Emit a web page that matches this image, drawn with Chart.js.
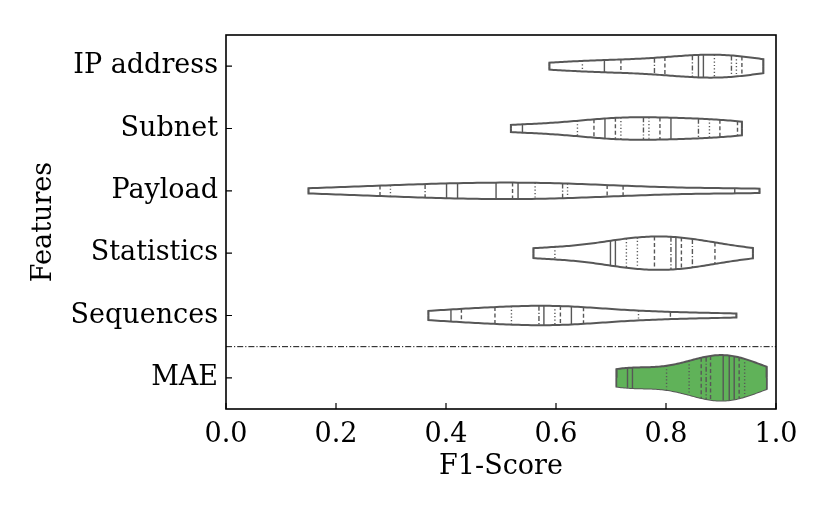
<!DOCTYPE html>
<html>
<head>
<meta charset="utf-8">
<script src="https://cdn.jsdelivr.net/npm/chart.js@4.4.0/dist/chart.umd.min.js"></script>
<style>
  body { margin: 0; background: #fff; }
</style>
</head>
<body>
<canvas id="violin-chart" width="830" height="519"></canvas>
<script>
// categories (top to bottom) and the F1 scores of each run
const features = ['IP address', 'Subnet', 'Payload', 'Statistics', 'Sequences', 'MAE'];

const ipAddress  = [0.588, 0.648, 0.688, 0.718, 0.779, 0.798, 0.848, 0.859, 0.868, 0.888, 0.919, 0.928, 0.938, 0.977];
const subnet     = [0.518, 0.539, 0.639, 0.669, 0.689, 0.708, 0.718, 0.759, 0.769, 0.789, 0.809, 0.859, 0.879, 0.898, 0.930, 0.938];
const payload    = [0.150, 0.280, 0.299, 0.362, 0.401, 0.421, 0.491, 0.521, 0.531, 0.562, 0.612, 0.621, 0.693, 0.722, 0.925, 0.970];
const statistics = [0.559, 0.598, 0.699, 0.708, 0.728, 0.748, 0.779, 0.809, 0.818, 0.828, 0.848, 0.889, 0.958];
const sequences  = [0.368, 0.409, 0.428, 0.489, 0.519, 0.569, 0.578, 0.598, 0.608, 0.628, 0.650, 0.750, 0.808, 0.928];
const mae        = [0.710, 0.730, 0.739, 0.801, 0.842, 0.864, 0.873, 0.881, 0.904, 0.915, 0.924, 0.933, 0.943, 0.983];

// widest point of each violin (in category units)
const peakWidth = [0.184, 0.181, 0.132, 0.268, 0.156, 0.365];

const xTickValues = [0, 0.2, 0.4, 0.6, 0.8, 1.0];
const xTickLabels = ['0.0', '0.2', '0.4', '0.6', '0.8', '1.0'];

const allScores = [ipAddress, subnet, payload, statistics, sequences, mae];

// look of the sticks: s solid, d dashed, o dotted, x dash-dot
const stickKinds = ['sosdxdxssoxods', 'ssodsdoxodsxodds', 'sdoxsssdsoxoddss',
                    'sossoodxsdxds', 'ssddoxsodsdoxs', 'sssoodxdsssdos'];
const dashFor = { s: [], d: [4, 2.5], o: [1.2, 2.2], x: [5, 2, 1.2, 2] };

const GRAY = '#575757';
const FONT = { family: 'DejaVu Serif', size: 27 };
const GRID_SIZE = 100;

// gaussian kde, scott bandwidth (as seaborn/scipy)
function makeKde(values) {
    const n = values.length;
    const mean = values.reduce((a, b) => a + b, 0) / n;
    const sd = Math.sqrt(values.reduce((a, v) => a + (v - mean) ** 2, 0) / (n - 1));
    const bw = sd * Math.pow(n, -0.2);
    return function(x) {
        let s = 0;
        values.forEach(v => { s += Math.exp(-0.5 * ((x - v) / bw) ** 2); });
        return s / (n * bw * Math.sqrt(2 * Math.PI));
    };
}

const kdes = allScores.map(makeKde);
const grids = allScores.map((vals, i) => {
    const lo = Math.min(...vals), hi = Math.max(...vals);
    const pts = [];
    for (let k = 0; k < GRID_SIZE; k++) {
        const x = lo + (hi - lo) * k / (GRID_SIZE - 1);
        pts.push({ x: x, d: kdes[i](x) });
    }
    return pts;
});
const ownMax = grids.map(g => Math.max(...g.map(p => p.d)));
const half = (i, d) => d / ownMax[i] * peakWidth[i];

const datasets = [];

// sticks
allScores.forEach((vals, i) => {
    vals.forEach((v, j) => {
        const h = half(i, kdes[i](v));
        datasets.push({
            data: [{ x: v, y: i - h }, { x: v, y: i + h }],
            showLine: true, pointRadius: 0, borderColor: GRAY, borderWidth: 1.4,
            borderDash: dashFor[stickKinds[i][j]], order: 0
        });
    });
});

// violin outlines (upper and lower half, closed at the ends)
grids.forEach((g, i) => {
    const first = g[0].x, last = g[g.length - 1].x;
    const upper = [{ x: first, y: i }].concat(g.map(p => ({ x: p.x, y: i - half(i, p.d) })), [{ x: last, y: i }]);
    const lower = [{ x: first, y: i }].concat(g.map(p => ({ x: p.x, y: i + half(i, p.d) })), [{ x: last, y: i }]);
    const isMae = features[i] === 'MAE';
    datasets.push({
        data: upper, showLine: true, pointRadius: 0, borderColor: GRAY, borderWidth: 2,
        fill: isMae ? '+1' : false, backgroundColor: '#60b259', order: 1
    });
    datasets.push({
        data: lower, showLine: true, pointRadius: 0, borderColor: GRAY, borderWidth: 2,
        fill: false, order: 1
    });
});

// dash-dot separator above MAE
datasets.push({
    data: [{ x: 0, y: 4.5 }, { x: 1, y: 4.5 }],
    showLine: true, pointRadius: 0, borderColor: '#111', borderWidth: 1,
    borderDash: [6, 2, 1.2, 2], order: 0
});

const framePlugin = {
    id: 'frame',
    afterDatasetsDraw(chart) {
        const { ctx, chartArea: a, scales } = chart;
        ctx.save();
        ctx.strokeStyle = '#000';
        ctx.lineWidth = 1.6;
        ctx.strokeRect(a.left, a.top, a.right - a.left, a.bottom - a.top);
        ctx.lineWidth = 1.2;
        ctx.beginPath();
        xTickValues.forEach(v => {
            const px = scales.x.getPixelForValue(v);
            ctx.moveTo(px, a.bottom);
            ctx.lineTo(px, a.bottom - 6);
        });
        features.forEach((f, i) => {
            const py = scales.y.getPixelForValue(i);
            ctx.moveTo(a.left, py);
            ctx.lineTo(a.left + 6, py);
        });
        ctx.stroke();
        ctx.restore();
    }
};

const ctx = document.getElementById('violin-chart').getContext('2d');
new Chart(ctx, {
    type: 'scatter',
    data: { datasets: datasets },
    options: {
        responsive: false,
        animation: false,
        devicePixelRatio: 1,
        layout: { padding: { top: 35, right: 54, left: 0, bottom: 0 } },
        plugins: { legend: { display: false }, tooltip: { enabled: false } },
        scales: {
            x: {
                type: 'linear', min: 0, max: 1,
                grid: { display: false, drawTicks: false }, border: { display: false },
                afterBuildTicks: s => { s.ticks = xTickValues.map(v => ({ value: v })); },
                afterFit: s => { s.height = 110; },
                ticks: {
                    color: '#000', font: FONT, padding: 10, maxRotation: 0,
                    callback: (v, idx) => xTickLabels[idx]
                },
                title: { display: true, text: 'F1-Score', color: '#000', font: FONT, padding: { bottom: 36 } }
            },
            y: {
                type: 'linear', min: -0.5, max: 5.5, reverse: true,
                grid: { display: false, drawTicks: false }, border: { display: false },
                afterBuildTicks: s => { s.ticks = features.map((f, i) => ({ value: i })); },
                afterFit: s => { s.width = 226; },
                ticks: {
                    color: '#000', font: FONT, padding: 8,
                    callback: v => features[v]
                },
                title: { display: true, text: 'Features', color: '#000', font: FONT, padding: { top: 28 } }
            }
        }
    },
    plugins: [framePlugin]
});
</script>
</body>
</html>
